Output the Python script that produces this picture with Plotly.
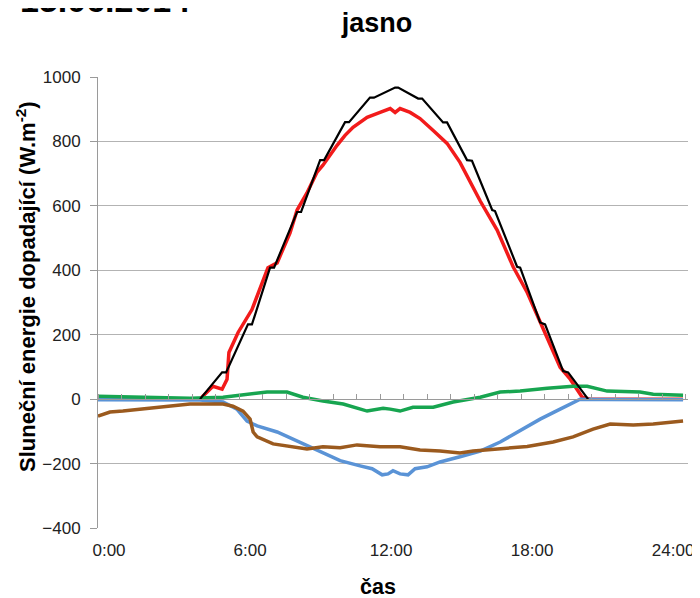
import plotly.graph_objects as go

# time in hours (axis units), values in W.m-2
black_h = [4.34, 5.28, 5.45, 6.38, 6.55, 7.32, 7.49, 8.47, 8.64, 9.45, 9.62, 10.51, 10.68,
           11.57, 11.74, 12.64, 12.77, 13.62, 13.79, 14.68, 14.85, 15.70, 15.91, 16.77, 16.89,
           17.83, 17.96, 18.81, 19.02, 19.79, 20.00, 20.85]
black_v = [0, 83, 83, 232, 232, 408, 408, 581, 581, 742, 742, 860, 860,
           936, 936, 967, 967, 933, 933, 859, 859, 742, 740, 587, 584,
           411, 408, 238, 232, 87, 83, 0]

red_h = [0.0, 4.34, 4.47, 4.89, 5.28, 5.49, 5.57, 5.96, 6.55, 7.23, 7.62, 8.17, 8.47, 8.89,
         9.32, 9.57, 10.17, 10.51, 10.85, 11.45, 12.00, 12.43, 12.64, 12.85, 13.28, 13.70,
         14.26, 14.85, 15.40, 16.26, 16.98, 17.66, 18.26, 18.81, 19.23, 19.66, 20.09, 20.60,
         20.94, 24.89]
red_v = [0, 0, 10, 40, 31, 62, 145, 207, 278, 408, 423, 516, 587, 640,
         705, 726, 788, 819, 844, 875, 890, 902, 890, 902, 890, 871,
         834, 794, 735, 615, 525, 411, 331, 238, 170, 99, 62, 6,
         0, 0]

green_h = [0.0, 1.36, 2.64, 3.91, 5.32, 6.47, 7.19, 8.04, 8.72, 9.57, 10.43, 11.45, 12.13,
           12.43, 12.85, 13.40, 14.26, 15.11, 16.26, 17.11, 17.96, 19.11, 20.21, 20.81,
           21.66, 23.06, 23.62, 24.89]
green_v = [9, 7, 5, 3, 6, 15, 22, 22, 6, -6, -15, -37, -28,
           -31, -37, -25, -25, -9, 6, 22, 25, 34, 40, 40,
           25, 22, 15, 12]

blue_h = [0.0, 2.21, 4.34, 5.32, 5.91, 6.34, 6.77, 7.62, 8.47, 9.45, 10.30, 11.15, 11.66,
          12.09, 12.34, 12.55, 12.85, 13.19, 13.49, 14.00, 14.55, 15.40, 16.26, 17.11,
          17.96, 18.81, 19.66, 20.51, 21.36, 24.89]
blue_v = [-2, -3, -3, -9, -31, -68, -83, -102, -130, -164, -191, -207, -216,
          -235, -232, -222, -232, -235, -216, -210, -195, -179, -161, -133,
          -97, -62, -31, 0, -1, -2]

brown_h = [0.0, 0.51, 1.06, 2.51, 3.91, 5.32, 5.74, 6.17, 6.47, 6.60, 6.77, 7.45, 8.17,
           8.89, 9.57, 10.30, 11.02, 12.00, 12.85, 13.70, 14.55, 15.40, 15.96, 17.11,
           18.26, 19.36, 20.21, 21.06, 21.79, 22.77, 23.62, 24.89]
brown_v = [-53, -40, -37, -25, -15, -15, -22, -37, -62, -102, -117, -139, -148,
           -155, -148, -151, -142, -148, -148, -158, -161, -167, -161, -155,
           -147, -133, -117, -93, -77, -80, -77, -68]

x_tick_vals = [0, 6, 12, 18, 24]
x_tick_text = ["0:00", "6:00", "12:00", "18:00", "24:00"]

chart_title = "jasno"
x_title = "čas"
y_title = "Sluneční energie dopadající (W.m<sup>-2</sup>)"
date_text = "15.06.2014"

FONT = "Arial, 'Liberation Sans', sans-serif"
GRID = "#B3B3B3"
AXIS = "#9A9A9A"

# the page body adds an 8px offset, so the figure is 8px smaller than the window
W, H = 692, 590
ML, MR, MT, MB = 90, 12, 69, 70
PW, PH = W - ML - MR, H - MT - MB


def px(x):  # figure pixel -> paper x
    return (x - ML) / PW


def py(y):  # figure pixel -> paper y
    return (H - MB - y) / PH


fig = go.Figure()
series = [
    (red_h, red_v, "#F21B1B", 3.5),
    (blue_h, blue_v, "#5A93D6", 3.5),
    (green_h, green_v, "#17A550", 3.5),
    (brown_h, brown_v, "#9B5A1E", 3.5),
    (black_h, black_v, "#000000", 2.2),
]
for h, v, c, w in series:
    fig.add_trace(go.Scatter(x=h, y=v, mode="lines", line=dict(color=c, width=w),
                             hoverinfo="skip", showlegend=False))

# helper trace to host the axis drawn through zero
fig.add_trace(go.Scatter(x=[0, 25.1], y=[None, None], xaxis="x2", mode="lines",
                         showlegend=False, hoverinfo="skip"))

fig.update_layout(
    width=W, height=H,
    margin=dict(l=ML, r=MR, t=MT, b=MB, autoexpand=False),
    paper_bgcolor="white", plot_bgcolor="white",
    font=dict(family=FONT, color="#222222"),
    showlegend=False,
    title=dict(text=f"<b>{chart_title}</b>", x=369 / W, xref="container", xanchor="center",
               y=1 - 15 / H, yref="container", yanchor="middle",
               font=dict(size=27, color="#000000", family=FONT)),
    xaxis=dict(range=[0, 25.1], tickvals=x_tick_vals, ticktext=x_tick_text,
               showgrid=False, zeroline=False, showline=False, ticks="",
               tickfont=dict(size=17, color="#222222"), automargin=False,
               ticklabelshift=11, ticklabelstandoff=10, ticklabeloverflow="allow"),
    xaxis2=dict(overlaying="x", anchor="free", position=400 / 1400, side="top",
                range=[0, 25.1], tick0=0, dtick=1, ticks="outside", ticklen=5,
                tickcolor=AXIS, showticklabels=False, showline=True, linecolor=AXIS,
                linewidth=1, showgrid=False, zeroline=False, automargin=False),
    yaxis=dict(range=[-400, 1000], dtick=200, showgrid=True, gridcolor=GRID, gridwidth=1,
               zeroline=False, showline=True, linecolor=AXIS, ticks="outside", ticklen=7,
               tickcolor=AXIS, tickfont=dict(size=17, color="#222222"), automargin=False,
               ticklabelstandoff=6),
    annotations=[
        dict(text=f"<b>{y_title}</b>", textangle=-90, xref="paper", yref="paper",
             x=px(18), y=py(279), xanchor="center", yanchor="middle", showarrow=False,
             font=dict(size=22, color="#000000", family=FONT)),
        dict(text=f"<b>{x_title}</b>", xref="paper", yref="paper",
             x=px(370), y=py(579), xanchor="center", yanchor="middle", showarrow=False,
             font=dict(size=21.5, color="#000000", family=FONT)),
        dict(text=f"<b>{date_text}</b>", xref="paper", yref="paper",
             x=px(10), y=py(13), xanchor="left", yanchor="bottom",
             showarrow=False, font=dict(size=34, color="#000000", family=FONT)),
    ],
)

fig.write_html("out.html")
